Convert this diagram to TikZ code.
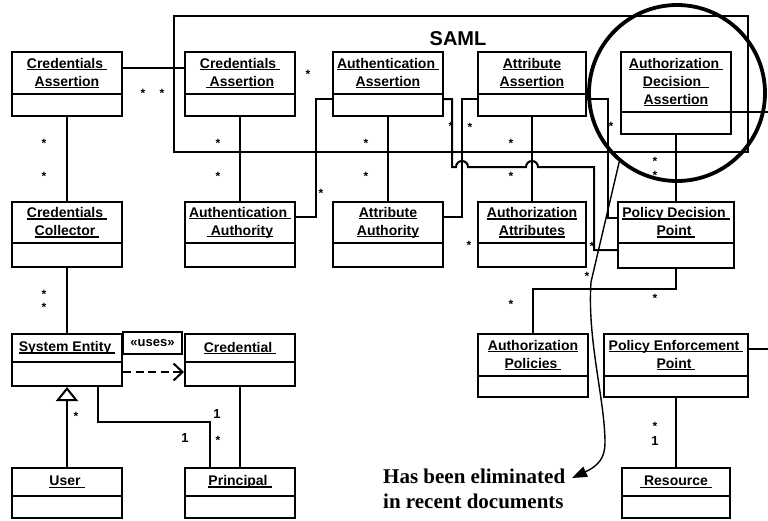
\documentclass[tikz,border=0pt]{standalone}
\usepackage{fontspec}
\setmainfont{Liberation Serif}
\newfontfamily\arialfont{Liberation Sans}
\usetikzlibrary{arrows.meta,fit}

% underlined title line with a fixed rule just below the baseline
\newcommand\uln[1]{\setbox0\hbox{#1}\rlap{\rule[-1.9pt]{\wd0}{1.1pt}}\box0}

\newcount\multno
\newcommand\mlabel[3]{\global\advance\multno by 1\relax
  \node[mult,anchor=base] (mult\the\multno) at (#1,#2) {#3};}

% class box: name, x1, y1, x2, y of divider, y2, title
\newcommand\classbox[7]{%
  \node[classrect, fit={(#2,#3) (#4,#6)}] (#1) {};
  \draw[boxline] (#2,#5) -- (#4,#5);
  \node[titletext] (#1-title) at ({(#2+#4)/2},{(#3+#5)/2}) {#7};
}

\tikzset{
  classrect/.style={draw, rectangle, line width=2pt, inner sep=0pt},
  boxline/.style={line width=2pt},
  titletext/.style={font=\arialfont\bfseries\fontsize{14}{18}\selectfont, align=center, inner sep=0pt},
  wire/.style={line width=2pt},
  mult/.style={font=\arialfont\bfseries\fontsize{12}{14}\selectfont, inner sep=0pt},
  num/.style={font=\arialfont\bfseries\fontsize{13}{15}\selectfont, inner sep=0pt},
  pointer/.style={line width=1.4pt, -{Triangle[length=15pt,width=11pt]}},
}

\begin{document}
\begin{tikzpicture}[x=1pt,y=-1pt]
\useasboundingbox (0,0) rectangle (768,520);
\fill[white] (0,0) rectangle (768,520);

% SAML package frame
\node[draw, line width=2pt, inner sep=0pt, fit={(174,16) (748,152)}] (samlframe) {};
\node[anchor=base, inner sep=0pt, font=\arialfont\bfseries\fontsize{20}{24}\selectfont] (samltitle) at (458,45) {SAML};

% classes
\classbox{caL}{12}{52}{122}{94}{116}{\uln{Credentials\ }\\\uln{Assertion}}
\classbox{caS}{185}{52}{295}{94}{116}{\uln{Credentials\ }\\\uln{\ Assertion}}
\classbox{authA}{333}{52}{443}{94}{116}{\uln{Authentication\ }\\\uln{Assertion}}
\classbox{attA}{478}{52}{586}{94}{116}{\uln{Attribute}\\\uln{Assertion}}
\classbox{ada}{621}{52}{731}{112}{134}{\uln{Authorization\ }\\\uln{Decision\ \ }\\\uln{Assertion}}

\classbox{ccol}{12}{202}{122}{243}{267}{\uln{Credentials\ }\\\uln{Collector\ }}
\classbox{aaut}{185}{202}{295}{243}{267}{\uln{Authentication\ }\\\uln{\ Authority}}
\classbox{attAut}{333}{202}{443}{243}{267}{\uln{Attribute}\\\uln{Authority}}
\classbox{authAttr}{478}{202}{586}{243}{267}{\uln{Authorization}\\\uln{Attributes}}
\classbox{pdp}{618}{202}{734}{243}{268}{\uln{Policy Decision\ }\\\uln{Point\ }}

\classbox{sys}{12}{334}{122}{362}{386}{\uln{System Entity\ }}
\classbox{cred}{185}{334}{295}{362}{386}{\uln{Credential\ }}
\classbox{authPol}{478}{334}{588}{376}{397}{\uln{Authorization}\\\uln{Policies\ }}
\classbox{pep}{604}{334}{748}{376}{397}{\uln{Policy Enforcement\ }\\\uln{Point\ }}

\classbox{user}{12}{468}{122}{496}{518}{\uln{User\ }}
\classbox{princ}{185}{468}{295}{496}{518}{\uln{Principal\ }}
\classbox{res}{622}{468}{730}{496}{518}{\uln{\ Resource\ }}

\node[draw, line width=1.8pt, inner sep=0pt, minimum width=59pt, minimum height=22pt,
      font=\arialfont\bfseries\fontsize{13}{15}\selectfont] (uses) at (152.5,343) {«uses»};

% associations
\draw[wire] (caL.east |- 0,68) -- (caS.west |- 0,68);
\draw[wire] (caL.south) -- (ccol.north);
\draw[wire] (caS.south) -- (aaut.north);
\draw[wire] (aaut.east |- 0,217) -| (316,99) -- (authA.west |- 0,99);
\draw[wire] (authA.south) -- (attAut.north);
\draw[wire] (authA.east |- 0,99) -| (452,167) -- (456,167)
  arc[start angle=180, end angle=0, radius=6pt] -- (526,167)
  arc[start angle=180, end angle=0, radius=6pt] -- (594,167) -- (594,250) -- (pdp.west |- 0,250);
\draw[wire] (attA.west |- 0,99) -- (462,99) -- (462,217) -- (attAut.east |- 0,217);
\draw[wire] (attA.south) -- (authAttr.north);
\draw[wire] (attA.east |- 0,99) -- (608,99) -- (608,218) -- (pdp.west |- 0,218);
\draw[wire] (ada.south) -- (pdp.north);
\coordinate (edgeA) at (768,112);
\draw[wire] (ada.east |- edgeA) -- (edgeA);
\draw[wire] (pdp.south) -- (pdp.south |- 0,289) -| (authPol.north);
\coordinate (edgeB) at (768,349);
\draw[wire] (pep.east |- edgeB) -- (edgeB);
\draw[wire] (pep.south) -- (res.north);
\draw[wire] (ccol.south) -- (sys.north);
\draw[wire, dash pattern=on 8pt off 4.5pt, -{Straight Barb[length=9pt,width=17pt]}]
  (sys.east |- 0,372) -- (cred.west |- 0,372);
\draw[wire, -{Triangle[open, length=14pt, width=22pt]}] (user.north) -- (sys.south);
\draw[wire] (sys.south -| 98,0) -- (98,422) -| (princ.north -| 210,0);
\draw[wire] (cred.south) -- (princ.north);

% multiplicities
\mlabel{143}{97}{*}  \mlabel{162}{97}{*}
\mlabel{44}{147}{*}  \mlabel{44}{180}{*}
\mlabel{218}{147}{*} \mlabel{218}{180}{*}
\mlabel{308}{78}{*}  \mlabel{321}{197}{*}
\mlabel{366}{147}{*} \mlabel{366}{180}{*}
\mlabel{451}{130}{*} \mlabel{470}{131}{*}
\mlabel{469}{249}{*}
\mlabel{511}{147}{*} \mlabel{511}{180}{*}
\mlabel{611}{130}{*} \mlabel{592}{250}{*}
\mlabel{587}{280}{*}
\mlabel{655}{165}{*} \mlabel{655}{179}{*}
\mlabel{655}{302}{*} \mlabel{511}{308}{*}
\mlabel{44}{298}{*}  \mlabel{44}{311}{*}
\mlabel{76}{420}{*}  \mlabel{218}{444}{*}
\mlabel{655}{430}{*}
\node[num, anchor=base] (one1) at (185,442) {1};
\node[num, anchor=base] (one2) at (217,418) {1};
\node[num, anchor=base] (one3) at (655,445) {1};

% highlight ring and its note
\node[draw, circle, line width=3.8pt, minimum size=176pt, inner sep=0pt] (focus) at (677,93) {};
\coordinate (tip) at (572,478);
\draw[pointer] (focus.230) -- (591,282) .. controls (587,340) and (605,400) .. (605,443)
  .. controls (605,458) and (598,466) .. (tip);
\node[anchor=base west, align=left, inner sep=0pt, font=\bfseries\fontsize{21}{25}\selectfont]
  (note) at (383,508) {Has been eliminated\\in recent documents};
\end{tikzpicture}
\end{document}
